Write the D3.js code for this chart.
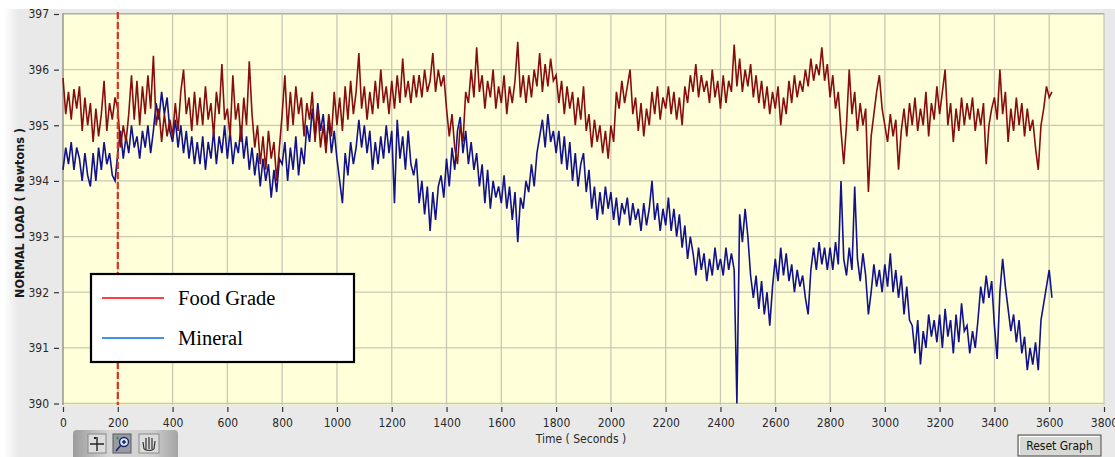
<!DOCTYPE html>
<html>
<head>
<meta charset="utf-8">
<script src="https://cdn.jsdelivr.net/npm/d3@7"></script>
<style>
  html, body { margin: 0; padding: 0; background: #fff; }
  svg { display: block; }
  .tick text { font-family: "DejaVu Sans Condensed", "Liberation Sans", sans-serif; font-size: 12px; fill: #2a2a2a; }
</style>
</head>
<body>
<div id="chart"></div>
<script>
// samples every 10 seconds
var sampleStep = 10;
var markerTime = 200;
var seriesNames = ["Food Grade", "Mineral"];
var timeTicks = [0, 200, 400, 600, 800, 1000, 1200, 1400, 1600, 1800, 2000, 2200, 2400, 2600, 2800, 3000, 3200, 3400, 3600, 3800];
var loadTicks = [390, 391, 392, 393, 394, 395, 396, 397];

var foodGrade = [
  395.85, 395.2, 395.6, 395.1, 395.65, 395.3, 395.7, 394.9, 395.5, 395.0,
  395.4, 394.7, 395.3, 394.8, 395.2, 395.8, 394.9, 395.4, 395.1, 395.5,
  395.3, 394.6, 395.0, 394.7, 395.2, 395.9, 395.1, 395.8, 395.0, 395.7,
  395.2, 395.9, 395.3, 396.25, 395.0, 395.3, 394.7, 395.2, 394.8, 395.1,
  394.8, 395.4, 394.9, 395.6, 396.0, 395.2, 395.5, 394.9, 395.6, 395.0,
  395.5, 395.0, 395.7, 395.1, 395.4, 394.8, 395.6, 395.2, 396.1, 395.1,
  395.3, 394.8, 395.9, 395.1, 395.4, 394.7, 395.5, 395.0, 396.15, 395.2,
  394.6, 395.0, 394.3, 394.8, 394.2, 394.9, 394.4, 394.7, 394.0, 394.6,
  395.2, 395.9, 394.9, 395.6, 395.0, 395.7, 395.2, 395.5, 394.8, 395.4,
  395.1, 395.6, 394.7, 395.3, 394.6, 395.0, 394.5, 395.2, 394.8, 395.6,
  395.0, 395.5, 394.9, 395.7, 395.1, 395.8, 395.2, 395.6, 396.3, 395.3,
  395.7, 395.1, 395.6, 395.2, 395.8, 395.3, 396.0, 395.4, 395.7, 395.2,
  395.8, 395.3, 395.9, 395.4, 396.2, 395.5, 395.8, 395.4, 395.9, 395.5,
  395.9, 395.5, 396.0, 395.6, 395.8, 396.3, 395.6, 396.0, 395.7, 395.9,
  395.3, 394.8, 395.2, 394.6, 394.3, 395.0, 394.7, 395.6, 395.4, 396.0,
  395.5, 396.4, 395.6, 395.9, 395.3, 395.8, 395.5, 396.0, 395.3, 395.7,
  395.4, 395.9, 395.2, 395.7, 395.4, 395.8, 396.5, 395.5, 395.9, 395.4,
  395.9, 395.5, 396.0, 395.7, 396.3, 395.6, 396.1, 395.7, 396.2, 395.8,
  395.9, 395.4, 395.8, 395.2, 395.7, 395.3, 395.6, 395.0, 395.5, 395.1,
  395.7, 394.9, 395.2, 394.6, 395.1, 394.7, 395.0, 394.5, 394.9, 394.4,
  395.0, 394.7, 395.6, 395.3, 395.8, 395.4, 395.7, 396.0, 395.2, 395.5,
  394.9, 395.4, 394.8, 395.3, 395.0, 395.6, 395.2, 395.7, 395.1, 395.5,
  395.3, 395.7, 395.2, 395.6, 395.1, 395.5, 395.0, 395.7, 395.4, 395.9,
  395.6, 396.1, 395.5, 395.9, 395.6, 395.8, 395.4, 396.0, 395.5, 395.8,
  395.3, 395.9, 395.4, 395.8, 395.6, 396.45, 395.7, 396.2, 395.6, 396.0,
  395.7, 396.1, 395.5, 395.9, 395.4, 395.8, 395.3, 395.7, 395.2, 395.6,
  395.3, 395.7, 395.0, 395.5, 395.2, 395.8, 395.4, 395.9, 395.5, 395.8,
  395.6, 396.0, 395.7, 396.2, 395.8, 396.1, 395.9, 396.4, 395.8, 396.1,
  395.5, 395.9, 395.3, 395.6, 394.9, 394.3, 395.0, 396.0, 395.2, 395.6,
  394.9, 395.4, 395.0, 395.3, 393.8, 394.8, 395.2, 395.6, 395.9, 395.3,
  395.0, 394.7, 395.2, 394.8, 395.1, 394.2, 394.9, 395.3, 394.8, 395.4,
  395.0, 395.5, 394.9, 395.3, 395.0, 395.6, 394.8, 395.4, 395.1, 395.7,
  395.2, 395.6, 396.0, 395.0, 395.4, 394.7, 395.3, 394.9, 395.5, 395.0,
  395.4, 395.1, 395.5, 394.9, 395.3, 395.0, 395.4, 394.3, 395.0, 395.3,
  395.5, 395.1, 396.0, 395.2, 395.6, 394.7, 395.3, 394.9, 395.5, 395.0,
  395.4, 394.8, 395.3, 394.9, 395.1, 394.6, 394.2, 395.0, 395.3, 395.7,
  395.5, 395.6
];

var mineral = [
  394.2, 394.6, 394.3, 394.7, 394.2, 394.6, 394.4, 394.0, 394.5, 394.1,
  393.9, 394.5, 394.0, 394.6, 394.2, 394.7, 394.3, 394.5, 394.1, 394.0,
  394.5, 394.9, 394.4, 394.8, 394.5, 395.0, 394.6, 394.8, 394.4, 394.9,
  394.6, 395.0, 394.5, 394.9, 395.4, 395.1, 395.6, 395.2, 395.5, 394.9,
  394.7, 395.1, 394.6, 395.0, 394.5, 394.9, 394.4, 394.8, 394.3, 394.7,
  394.3, 394.8, 394.2, 394.7, 394.4, 394.9, 394.3, 394.8, 394.5, 395.0,
  394.4, 394.9, 394.3, 394.7, 394.5, 395.0, 394.4, 394.8, 394.2, 394.6,
  394.1, 394.5, 393.9, 394.4, 394.0, 394.3, 393.7, 394.2, 393.8, 394.4,
  394.3, 394.7, 394.0, 394.6, 394.2, 394.8, 394.1, 394.6, 394.3, 395.0,
  394.7, 395.3, 394.8, 395.4, 394.9, 395.2, 394.6, 395.1, 394.5, 394.9,
  394.4, 394.0, 393.6, 394.5, 394.1, 394.7, 394.3, 394.6, 395.1, 394.6,
  395.0, 394.5, 394.9, 394.2, 394.7, 394.3, 394.8, 394.4, 395.0, 394.5,
  394.9, 393.6, 395.1, 394.4, 394.8, 394.2, 394.9, 394.3, 394.1, 394.4,
  393.6, 394.0, 393.4, 393.9, 393.1, 393.8, 393.3, 393.9, 394.1, 393.7,
  394.4, 393.9, 394.6, 394.2, 394.9, 395.15, 394.5, 394.9, 394.3, 394.7,
  394.2, 394.5, 393.9, 394.3, 393.6, 394.2, 393.5, 394.0, 393.7, 393.9,
  393.6, 394.1, 393.5, 393.9, 393.3, 393.8, 392.9, 393.7, 393.5, 394.0,
  393.8, 394.3, 393.9, 394.5, 394.8, 395.1, 394.6, 395.2, 394.7, 394.9,
  394.5, 394.9, 394.3, 394.8, 394.2, 394.7, 394.0, 394.5, 393.9, 394.3,
  394.5, 393.8, 394.2, 393.5, 393.9, 393.3, 393.8, 393.4, 393.9, 393.5,
  393.8, 393.3, 393.7, 393.2, 393.6, 393.4, 393.7, 393.2, 393.6, 393.3,
  393.5, 393.1, 393.6, 393.2, 393.5, 394.0, 393.3, 393.6, 393.1, 393.5,
  393.2, 393.7, 393.1, 393.5, 393.0, 393.4, 392.8, 393.2, 392.6, 393.0,
  392.7, 392.3, 392.8, 392.4, 392.7, 392.2, 392.6, 392.3, 392.8, 392.4,
  392.6, 392.3, 392.8, 392.4, 392.7, 392.4, 390.0, 393.4, 392.9, 393.5,
  393.0, 392.3, 391.9, 392.3, 391.7, 392.2, 391.6, 392.0, 391.4, 392.1,
  392.6, 392.2, 392.8, 392.3, 392.7, 392.2, 392.5, 392.0, 392.4, 392.1,
  392.3, 391.9, 391.6, 392.4, 392.8, 392.4, 392.9, 392.5, 392.8, 392.4,
  392.8, 392.4, 392.9, 392.5, 394.0, 392.6, 392.3, 392.8, 392.4, 393.9,
  392.6, 392.2, 392.7, 392.3, 391.6, 392.0, 392.5, 392.1, 392.4, 392.0,
  392.5, 392.1, 392.7, 392.0, 392.4, 391.9, 392.3, 391.6, 392.1, 391.5,
  391.4, 390.9, 391.5, 390.7, 391.3, 391.0, 391.6, 391.2, 391.5, 391.1,
  391.6, 391.0, 391.7, 391.2, 391.5, 390.9, 391.6, 391.1, 391.8, 391.3,
  391.4, 390.9, 391.3, 391.0, 391.5, 392.1, 391.8, 392.3, 391.9, 392.2,
  391.4, 390.8, 392.0, 392.6, 392.1, 391.7, 391.3, 391.6, 391.1, 391.5,
  390.9, 391.2, 390.6, 391.0, 390.7, 391.1, 390.6, 391.5, 391.8, 392.1,
  392.4, 391.9
];

var width = 1115, height = 457;

var svg = d3.select("#chart").append("svg")
  .attr("width", width)
  .attr("height", height);

var defs = svg.append("defs");
var edge = defs.append("linearGradient").attr("id", "edge").attr("x1", 0).attr("x2", 1);
edge.append("stop").attr("offset", 0).attr("stop-color", "#ffffff");
edge.append("stop").attr("offset", 1).attr("stop-color", "#e9e9e9");
var tool = defs.append("linearGradient").attr("id", "tool").attr("x1", 0).attr("x2", 1);
tool.append("stop").attr("offset", 0).attr("stop-color", "#9c9c9c");
tool.append("stop").attr("offset", 0.35).attr("stop-color", "#d6d6d6");
tool.append("stop").attr("offset", 0.75).attr("stop-color", "#d0d0d0");
tool.append("stop").attr("offset", 1).attr("stop-color", "#a4a4a4");

// panel background
svg.append("rect").attr("x", 0).attr("y", 0).attr("width", width).attr("height", height).attr("fill", "#ffffff");
svg.append("rect").attr("x", 18).attr("y", 9).attr("width", width - 18).attr("height", height - 9).attr("fill", "#e9e9e9");
svg.append("rect").attr("x", 4).attr("y", 9).attr("width", 14).attr("height", height - 9).attr("fill", "url(#edge)");

var x = d3.scaleLinear().domain([0, 3800]).range([63, 1104]);
var y = d3.scaleLinear().domain([390, 397]).range([403.5, 14]);

// plot area
svg.append("rect")
  .attr("x", x(0)).attr("y", 13)
  .attr("width", x(3800) - x(0)).attr("height", 405 - 13)
  .attr("fill", "#ffffd9");

var grid = svg.append("g").attr("stroke", "#c9c9b3").attr("stroke-width", 1.3);
grid.selectAll(".gx").data(timeTicks.slice(1)).enter().append("line")
  .attr("x1", function(d) { return x(d); }).attr("x2", function(d) { return x(d); })
  .attr("y1", 13).attr("y2", 405);
grid.selectAll(".gy").data(loadTicks).enter().append("line")
  .attr("x1", x(0)).attr("x2", x(3800))
  .attr("y1", function(d) { return y(d); }).attr("y2", function(d) { return y(d); });

svg.append("line")
  .attr("x1", x(0)).attr("x2", x(0)).attr("y1", 13).attr("y2", 405)
  .attr("stroke", "#8a8a80").attr("stroke-width", 1.3);
svg.append("line")
  .attr("x1", x(0)).attr("x2", x(3800)).attr("y1", 13.5).attr("y2", 13.5)
  .attr("stroke", "#b0b0a0").attr("stroke-width", 1);

// axes
var xAxis = d3.axisBottom(x).tickValues(timeTicks).tickSize(5).tickPadding(6).tickFormat(d3.format("d"));
var gx = svg.append("g").attr("transform", "translate(0,407)").call(xAxis);
gx.select(".domain").remove();
gx.selectAll(".tick line").attr("stroke", "#333").attr("stroke-width", 1.2);

var yAxis = d3.axisLeft(y).tickValues(loadTicks).tickSize(5).tickPadding(5).tickFormat(d3.format("d"));
var gy = svg.append("g").attr("transform", "translate(59,0)").call(yAxis);
gy.select(".domain").remove();
gy.selectAll(".tick line").attr("stroke", "#333").attr("stroke-width", 1.2);

svg.append("text")
  .attr("transform", "translate(24,213) rotate(-90)")
  .attr("text-anchor", "middle")
  .style("font-family", "'DejaVu Sans Condensed', 'Liberation Sans', sans-serif")
  .style("font-size", "12.5px")
  .style("font-weight", "bold")
  .attr("fill", "#1a1a1a")
  .text("NORMAL LOAD ( Newtons )");

svg.append("text")
  .attr("x", 581).attr("y", 443)
  .attr("text-anchor", "middle")
  .style("font-family", "'DejaVu Sans Condensed', 'Liberation Sans', sans-serif")
  .style("font-size", "12px")
  .attr("fill", "#2a2a2a")
  .text("Time ( Seconds )");

// series
var line = d3.line()
  .x(function(d, i) { return x(i * sampleStep); })
  .y(function(d) { return y(d); });

svg.append("path").datum(mineral)
  .attr("d", line).attr("fill", "none")
  .attr("stroke", "#12128c").attr("stroke-width", 1.6);
svg.append("path").datum(foodGrade)
  .attr("d", line).attr("fill", "none")
  .attr("stroke", "#870e0e").attr("stroke-width", 1.6);

// cursor at 200 s
svg.append("line")
  .attr("x1", x(markerTime)).attr("x2", x(markerTime))
  .attr("y1", 12).attr("y2", 405)
  .attr("stroke", "#d6331f").attr("stroke-width", 2.2)
  .attr("stroke-dasharray", "7,3");

// legend
var legend = svg.append("g");
legend.append("rect")
  .attr("x", 91).attr("y", 274).attr("width", 263).attr("height", 88)
  .attr("fill", "#ffffff").attr("stroke", "#000").attr("stroke-width", 2.2);
var legendColors = ["#ff0000", "#0070d8"];
var legendY = [298, 338];
seriesNames.forEach(function(name, i) {
  legend.append("line")
    .attr("x1", 102).attr("x2", 164).attr("y1", legendY[i]).attr("y2", legendY[i])
    .attr("stroke", legendColors[i]).attr("stroke-width", 1.6);
  legend.append("text")
    .attr("x", 178).attr("y", legendY[i] + 7)
    .style("font-family", "'Liberation Serif', 'Times New Roman', serif")
    .style("font-size", "20.5px")
    .attr("fill", "#000")
    .text(name);
});

// graph palette (cursor / zoom / pan)
var pal = svg.append("g");
pal.append("path")
  .attr("d", "M73,457 L73,434 Q73,430 77,430 L174,430 Q178,430 178,434 L178,457 Z")
  .attr("fill", "url(#tool)");
pal.append("rect").attr("x", 88).attr("y", 434).attr("width", 18).attr("height", 19)
  .attr("fill", "#dcdcdc").attr("stroke", "#8a8a8a");
pal.append("path").attr("d", "M90,444 H104 M97,437 V451")
  .attr("stroke", "#222").attr("stroke-width", 1.4);
pal.append("rect").attr("x", 94).attr("y", 437).attr("width", 2).attr("height", 2).attr("fill", "#222");
pal.append("rect").attr("x", 113).attr("y", 434).attr("width", 18).attr("height", 19)
  .attr("fill", "#9a9aa6").attr("stroke", "#5a5a5a");
pal.append("circle").attr("cx", 124).attr("cy", 442).attr("r", 4.5)
  .attr("fill", "#d8e4f4").attr("stroke", "#1c2c6c").attr("stroke-width", 1.4);
pal.append("path").attr("d", "M121,445 L116,451 M122,442 H126 M124,440 V444")
  .attr("stroke", "#1c2c6c").attr("stroke-width", 1.6);
pal.append("path").attr("d", "M116,438 H119 M117.5,436.5 V439.5")
  .attr("stroke", "#2a9a2a").attr("stroke-width", 1.2);
pal.append("rect").attr("x", 139).attr("y", 434).attr("width", 20).attr("height", 19)
  .attr("fill", "#dcdcdc").attr("stroke", "#8a8a8a");
pal.append("path")
  .attr("d", "M144,449 L143,442 M146,449 L146,438 M149,449 L149,437 M152,449 L152,438 M154,449 L155,441 M144,449 Q149,452 154,449")
  .attr("fill", "none").attr("stroke", "#333").attr("stroke-width", 1.2);

// reset button
var btn = svg.append("g");
btn.append("rect").attr("x", 1018).attr("y", 435).attr("width", 83).attr("height", 21)
  .attr("fill", "#d8d8d4").attr("stroke", "#4a4a4a").attr("stroke-width", 1);
btn.append("path").attr("d", "M1019.5,454.5 V436.5 H1099.5")
  .attr("fill", "none").attr("stroke", "#ffffff").attr("stroke-width", 1);
btn.append("text")
  .attr("x", 1059.5).attr("y", 450)
  .attr("text-anchor", "middle")
  .style("font-family", "'DejaVu Sans Condensed', 'Liberation Sans', sans-serif")
  .style("font-size", "12px")
  .attr("fill", "#111")
  .text("Reset Graph");
</script>
</body>
</html>
